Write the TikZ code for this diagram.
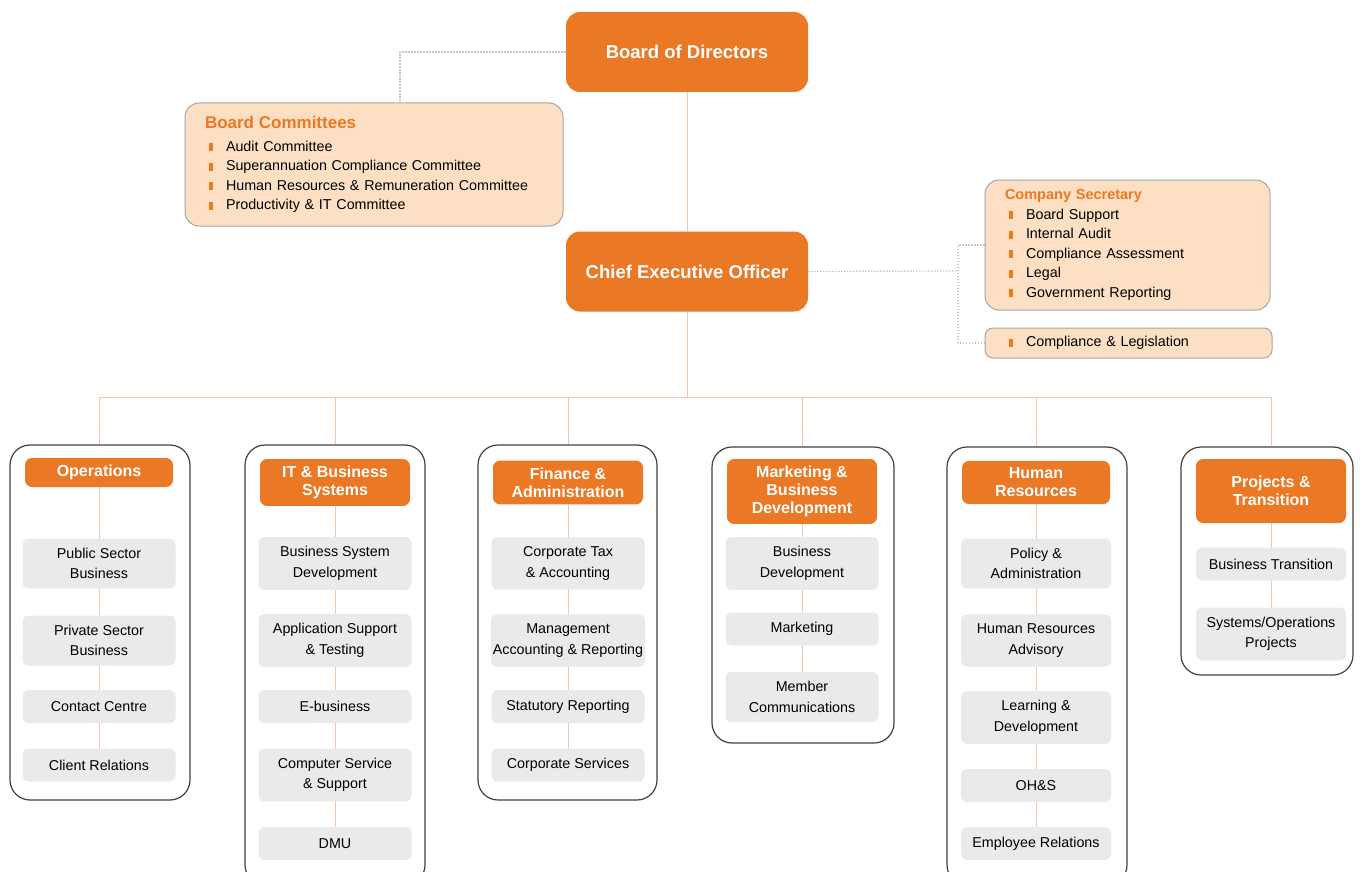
\documentclass[tikz,border=0pt]{standalone}
\usepackage{fontspec}
\setmainfont{Liberation Sans}
\usepackage{tikz}
\usetikzlibrary{positioning}
\usetikzlibrary{calc}

\definecolor{orgc}{RGB}{234,120,36}
\definecolor{peach}{RGB}{253,224,196}
\definecolor{unitgray}{RGB}{234,234,234}
\definecolor{linkc}{RGB}{240,198,172}
\definecolor{dotc}{RGB}{200,200,200}

\pgfdeclarelayer{back}
\pgfdeclarelayer{mid}
\pgfsetlayers{back,mid,main}

\newcommand{\bul}{\makebox[21pt][l]{\hspace{4pt}\textcolor{orgc}{\rule{3.5pt}{8pt}}}}

\tikzset{
  topbox/.style={fill=orgc, text=white, rounded corners=14pt, minimum width=242pt,
    minimum height=80pt, font=\bfseries\fontsize{18.5}{22}\selectfont},
  headbox/.style={fill=orgc, text=white, rounded corners=7pt, minimum width=150pt,
    minimum height=29pt, inner xsep=2pt, inner ysep=7pt, align=center,
    font=\bfseries\fontsize{16}{18}\selectfont},
  unitbox/.style={fill=unitgray, rounded corners=6pt, minimum width=153pt,
    minimum height=33pt, inner xsep=2pt, inner ysep=9.5pt, align=center,
    font=\fontsize{14.3}{20.5}\selectfont},
  deptbox/.style={draw=black!75, line width=1.2pt, rounded corners=20pt},
  notebox/.style={fill=peach, draw=black!35, line width=1pt, rounded corners=14pt,
    align=left, inner xsep=20pt, font=\fontsize{14.3}{19.5}\selectfont},
  link/.style={draw=linkc, line width=1pt},
  dotlink/.style={draw=dotc, line width=1.2pt, dash pattern=on 1.5pt off 1.5pt}
}

\begin{document}
\begin{tikzpicture}[x=1pt, y=-1pt]
  \useasboundingbox (0,0) rectangle (1363,872);

  % top of the chart
  \node[topbox] (board) at (687,52) {Board of Directors};
  \node[topbox] (ceo) at (687,271.5) {Chief Executive Officer};

  \node[notebox, minimum width=378pt, minimum height=123pt, text width=338pt] (comm) at (374,164.5)
    {{\color{orgc}\bfseries\fontsize{17}{18}\selectfont Board Committees}\\[3pt]
     \bul Audit Committee\\
     \bul Superannuation Compliance Committee\\
     \bul Human Resources \& Remuneration Committee\\
     \bul Productivity \& IT Committee};

  \node[notebox, minimum width=285pt, minimum height=130pt, text width=245pt] (sec) at (1127.5,245)
    {{\color{orgc}\bfseries\fontsize{14.5}{16}\selectfont Company Secretary}\\
     \bul Board Support\\
     \bul Internal Audit\\
     \bul Compliance Assessment\\
     \bul Legal\\
     \bul Government Reporting};

  \node[notebox, rounded corners=8pt, inner ysep=2pt, minimum width=287pt, minimum height=30pt,
    text width=247pt] (cmp) at (1128.5,343) {\bul Compliance \& Legislation};

  \coordinate (cj) at (400,52);
  \coordinate (sj) at (958,271);
  \coordinate (bus) at (687,397);

  % department headers
  \node[headbox, minimum width=148pt] (ops-hd) at (99,472.5) {Operations};
  \node[headbox] (it-hd) at (335,482.5) {IT \& Business\\Systems};
  \node[headbox] (fin-hd) at (568,482.5) {Finance \&\\Administration};
  \node[headbox] (mkt-hd) at (802,491.5) {Marketing \&\\Business\\Development};
  \node[headbox, minimum width=148pt] (hr-hd) at (1036,482.5) {Human\\Resources};
  \node[headbox, minimum height=64pt] (prj-hd) at (1271,491) {Projects \&\\Transition};

  % units
  \node[unitbox] (ops-1) at (99,563.5) {Public Sector\\Business};
  \node[unitbox] (ops-2) at (99,640.5) {Private Sector\\Business};
  \node[unitbox] (ops-3) at (99,706.5) {Contact Centre};
  \node[unitbox] (ops-4) at (99,765) {Client Relations};

  \node[unitbox] (it-1) at (335,563.5) {Business System\\Development};
  \node[unitbox] (it-2) at (335,640.5) {Application Support\\\& Testing};
  \node[unitbox] (it-3) at (335,706.5) {E-business};
  \node[unitbox] (it-4) at (335,775) {Computer Service\\\& Support};
  \node[unitbox] (it-5) at (335,843.5) {DMU};

  \node[unitbox] (fin-1) at (568,563.5) {Corporate Tax\\\& Accounting};
  \node[unitbox] (fin-2) at (568,640.5) {Management\\Accounting \& Reporting};
  \node[unitbox] (fin-3) at (568,706.5) {Statutory Reporting};
  \node[unitbox] (fin-4) at (568,765) {Corporate Services};

  \node[unitbox] (mkt-1) at (802,563.5) {Business\\Development};
  \node[unitbox] (mkt-2) at (802,629) {Marketing};
  \node[unitbox] (mkt-3) at (802,697) {Member\\Communications};

  \node[unitbox, minimum width=150pt] (hr-1) at (1036,563.5) {Policy \&\\Administration};
  \node[unitbox, minimum width=150pt] (hr-2) at (1036,640.5) {Human Resources\\Advisory};
  \node[unitbox, minimum width=150pt] (hr-3) at (1036,717.5) {Learning \&\\Development};
  \node[unitbox, minimum width=150pt] (hr-4) at (1036,785.5) {OH\&S};
  \node[unitbox, minimum width=150pt] (hr-5) at (1036,843.5) {Employee Relations};

  \node[unitbox, minimum width=150pt] (prj-1) at (1271,564) {Business Transition};
  \node[unitbox, minimum width=150pt] (prj-2) at (1271,634) {Systems/Operations\\Projects};

  % department frames
  \begin{pgfonlayer}{back}
    \node[deptbox, minimum width=180pt, minimum height=355pt] (ops-box) at (100,622.5) {};
    \node[deptbox, minimum width=180pt, minimum height=440pt] (it-box) at (335,665) {};
    \node[deptbox, minimum width=179pt, minimum height=355pt] (fin-box) at (567.5,622.5) {};
    \node[deptbox, minimum width=182pt, minimum height=296pt] (mkt-box) at (803,595) {};
    \node[deptbox, minimum width=180pt, minimum height=438pt] (hr-box) at (1037,666) {};
    \node[deptbox, minimum width=172pt, minimum height=228pt] (prj-box) at (1267,561) {};

    \draw[link] (board) -- (ceo);
    \draw[link] (ceo) -- (bus);
    \draw[link] (ops-hd |- bus) -- (prj-hd |- bus);
    \foreach \d in {ops,it,fin,mkt,hr,prj}
      \draw[link] (\d-hd |- bus) -- (\d-hd |- \d-box.north);

    \draw[dotlink] (board.west) -- (cj) -- (cj |- comm.north);
    \draw[dotlink] (ceo.east) -- (sj);
    \draw[dotlink] (sec.west) -| (sj) |- (cmp.west);
  \end{pgfonlayer}

  \begin{pgfonlayer}{mid}
    \foreach \d/\l in {ops/4,it/5,fin/4,mkt/3,hr/5,prj/2}
      \draw[link] (\d-hd) -- (\d-hd |- \d-\l);
  \end{pgfonlayer}
\end{tikzpicture}
\end{document}
